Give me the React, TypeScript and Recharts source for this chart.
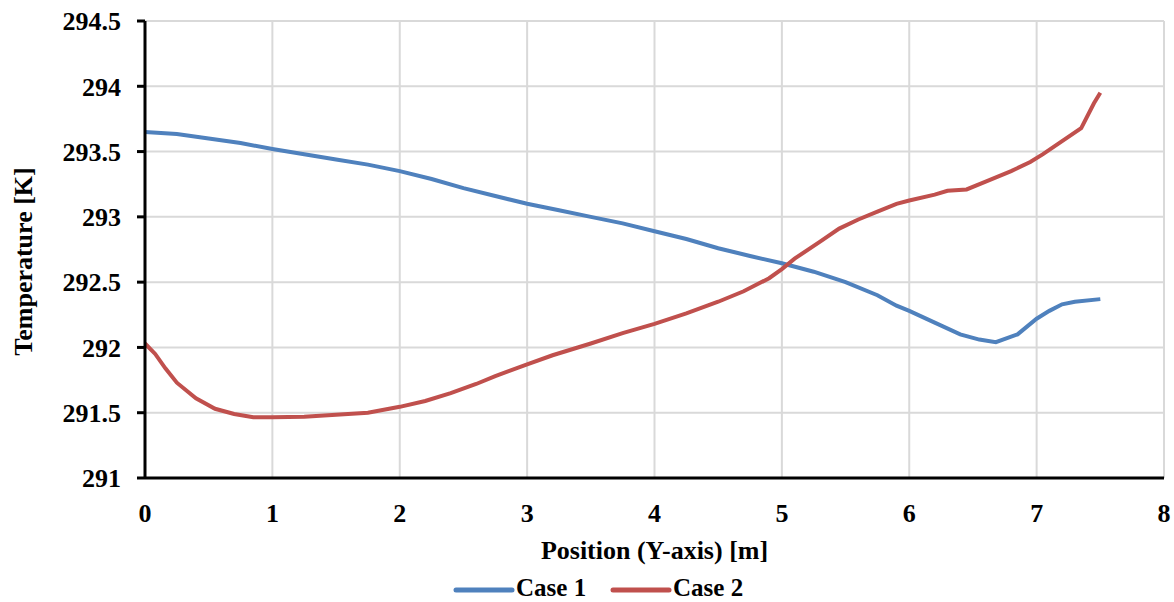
import React from 'react';
import { LineChart, Line, XAxis, YAxis, CartesianGrid } from 'recharts';

const case1X = [0, 0.25, 0.5, 0.75, 1.0, 1.25, 1.5, 1.75, 2.0, 2.25, 2.5, 2.75, 3.0, 3.25, 3.5, 3.75, 4.0, 4.25, 4.5, 4.75, 5.0, 5.25, 5.5, 5.75, 5.9, 6.0, 6.2, 6.4, 6.55, 6.68, 6.85, 7.0, 7.1, 7.2, 7.3, 7.5];
const case1T = [293.65, 293.635, 293.6, 293.565, 293.52, 293.48, 293.44, 293.4, 293.35, 293.29, 293.22, 293.16, 293.1, 293.05, 293.0, 292.95, 292.89, 292.83, 292.76, 292.7, 292.645, 292.58, 292.5, 292.4, 292.32, 292.28, 292.19, 292.1, 292.06, 292.04, 292.1, 292.22, 292.28, 292.33, 292.35, 292.37];

const case2X = [0, 0.08, 0.16, 0.25, 0.4, 0.55, 0.7, 0.85, 1.0, 1.25, 1.5, 1.75, 2.0, 2.2, 2.4, 2.6, 2.75, 3.0, 3.2, 3.5, 3.75, 4.0, 4.25, 4.5, 4.7, 4.9, 5.0, 5.1, 5.3, 5.45, 5.6, 5.75, 5.9, 6.0, 6.2, 6.3, 6.45, 6.6, 6.8, 6.95, 7.05, 7.2, 7.35, 7.45, 7.5];
const case2T = [292.03, 291.95, 291.84, 291.73, 291.61, 291.53, 291.49, 291.465, 291.465, 291.47, 291.485, 291.5, 291.545, 291.59, 291.65, 291.72, 291.78, 291.87, 291.94, 292.03, 292.11, 292.18, 292.26, 292.35, 292.43, 292.53, 292.6, 292.68, 292.81, 292.91, 292.98, 293.04, 293.1, 293.125, 293.17, 293.2, 293.21, 293.27, 293.35, 293.42, 293.48, 293.58, 293.68, 293.87, 293.95];

const xTicks = [0, 1, 2, 3, 4, 5, 6, 7, 8];
const yTicks = [291, 291.5, 292, 292.5, 293, 293.5, 294, 294.5];

const seriesNames = ['Case 1', 'Case 2'];
const seriesColors = ['#4F81BD', '#C0504D'];

const case1Data = case1X.map((x, i) => ({ x, t: case1T[i] }));
const case2Data = case2X.map((x, i) => ({ x, t: case2T[i] }));

const FONT = '"Liberation Serif", "Times New Roman", serif';

const legendItemStarts = [456, 613];

export default function App() {
  return (
    <div style={{ position: 'absolute', left: 0, top: 0, width: 1174, height: 602, background: '#fff', fontFamily: FONT }}>
      <LineChart width={1174} height={602} margin={{ top: 21, right: 10, bottom: 0, left: 0 }}>
        <CartesianGrid stroke="#D9D9D9" strokeWidth={2} />
        <XAxis
          dataKey="x"
          type="number"
          domain={[0, 8]}
          ticks={xTicks}
          allowDataOverflow
          height={124}
          tickLine={false}
          tickSize={0}
          tickMargin={26}
          axisLine={{ stroke: '#000', strokeWidth: 3 }}
          tick={{ fill: '#000', fontSize: 26, fontWeight: 700, fontFamily: FONT }}
          label={{
            content: (p: any) => {
              const vb = p.viewBox;
              return (
                <text x={vb.x + vb.width / 2} y={vb.y + 81} textAnchor="middle" fontSize={26} fontWeight={700} fontFamily={FONT} fill="#000">
                  Position (Y-axis) [m]
                </text>
              );
            },
          }}
        />
        <XAxis
          xAxisId="top"
          orientation="top"
          type="number"
          domain={[0, 8]}
          height={0}
          tick={false}
          tickLine={false}
          axisLine={{ stroke: '#000', strokeWidth: 3 }}
        />
        <YAxis
          type="number"
          domain={[291, 294.5]}
          ticks={yTicks}
          allowDataOverflow
          width={145}
          tickSize={8}
          tickMargin={16}
          tickLine={{ stroke: '#000', strokeWidth: 3 }}
          axisLine={{ stroke: '#000', strokeWidth: 3 }}
          tick={{ fill: '#000', fontSize: 26, fontWeight: 700, fontFamily: FONT }}
          label={{
            content: (p: any) => {
              const vb = p.viewBox;
              const cx = 32;
              const cy = vb.y + vb.height / 2 + 12;
              return (
                <text x={cx} y={cy} transform={`rotate(-90, ${cx}, ${cy})`} textAnchor="middle" fontSize={26} fontWeight={700} fontFamily={FONT} fill="#000">
                  Temperature [K]
                </text>
              );
            },
          }}
        />
        <YAxis
          yAxisId="right"
          orientation="right"
          type="number"
          domain={[291, 294.5]}
          width={0}
          tick={false}
          tickLine={false}
          axisLine={{ stroke: '#000', strokeWidth: 3 }}
        />
        <Line data={case1Data} dataKey="t" name={seriesNames[0]} type="linear" stroke={seriesColors[0]} strokeWidth={4} dot={false} isAnimationActive={false} />
        <Line data={case2Data} dataKey="t" name={seriesNames[1]} type="linear" stroke={seriesColors[1]} strokeWidth={4} dot={false} isAnimationActive={false} />
      </LineChart>
      <svg width={1174} height={602} style={{ position: 'absolute', left: 0, top: 0, pointerEvents: 'none' }}>
        {seriesNames.map((n, i) => {
          const x0 = legendItemStarts[i];
          return (
            <g key={n}>
              <line x1={x0} y1={590} x2={x0 + 56} y2={590} stroke={seriesColors[i]} strokeWidth={5} strokeLinecap="round" />
              <text x={x0 + 60} y={596} fontSize={25} fontWeight={700} fontFamily={FONT} fill="#000">{n}</text>
            </g>
          );
        })}
      </svg>
    </div>
  );
}
